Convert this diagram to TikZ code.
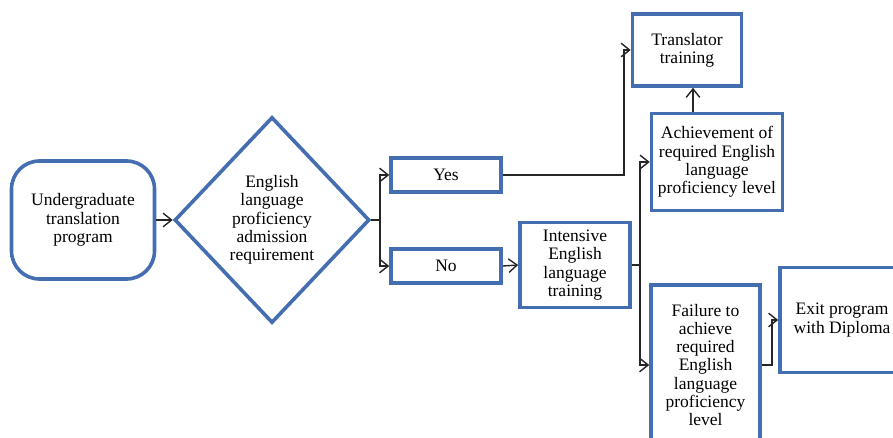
\documentclass[tikz,border=0pt]{standalone}
\usepackage{fontspec}
\setmainfont{Liberation Serif}
\usepackage{tikz}
\usetikzlibrary{shapes.geometric,arrows.meta}
\definecolor{boxblue}{RGB}{68,110,176}
\tikzset{
  box/.style={draw=boxblue, line width=3.6pt, fill=white, align=center, inner sep=2pt, font=\fontsize{17.5}{18.3}\selectfont},
  roundbox/.style={box, rounded corners=28pt},
  decision/.style={box, diamond, inner sep=0pt, minimum width=195pt, minimum height=206pt},
  flow/.style={draw=black!85, line width=1.4pt, -{Straight Barb[length=5pt,width=8pt,scale=1.7]}},
  link/.style={draw=black!85, line width=1.4pt}
}
\begin{document}
\begin{tikzpicture}[x=1pt,y=-1pt]
\useasboundingbox (0,0) rectangle (893,438);
\clip (0,0) rectangle (893,438);
\node[roundbox, minimum width=143pt, minimum height=118pt] (ugrad) at (83,220) {Undergraduate\\translation\\program};
\node[decision] (req) at (272,220) {English\\language\\proficiency\\admission\\requirement};
\node[box, minimum width=110pt, minimum height=34pt] (yes) at (446,175) {Yes};
\node[box, minimum width=110pt, minimum height=34pt] (no) at (446,266) {No};
\node[box, minimum width=110pt, minimum height=85pt] (intens) at (575,265) {Intensive\\English\\language\\training};
\node[box, minimum width=109pt, minimum height=72pt] (transl) at (687,50) {Translator\\training};
\node[box, minimum width=131pt, minimum height=97pt] (achiev) at (717,162) {Achievement of\\required English\\language\\proficiency level};
\node[box, minimum width=109pt, minimum height=160pt] (fail) at (705.5,365) {Failure to\\achieve\\required\\English\\language\\proficiency\\level};
\node[box, minimum width=124pt, minimum height=105pt] (exit) at (842,320) {Exit program\\with Diploma};
\coordinate (split1) at (380,220);
\coordinate (split2) at (640,265);
\draw[flow] (ugrad.east) -- (req.west);
\draw[link] (req.east) -- (split1);
\draw[flow] (split1) |- (yes.west);
\draw[flow] (split1) |- (no.west);
\draw[flow] (yes.east) -- ++(121,0) |- (transl.west);
\draw[flow] (no.east) -- (intens.west);
\draw[link] (intens.east) -- (split2);
\draw[flow] (split2) |- (achiev.west);
\draw[flow] (split2) |- (fail.west);
\draw[flow] ([xshift=-24pt]achiev.north) -- ([xshift=6pt]transl.south);
\draw[flow] (fail.east) -- ++(10,0) |- (exit.west);
\end{tikzpicture}
\end{document}
